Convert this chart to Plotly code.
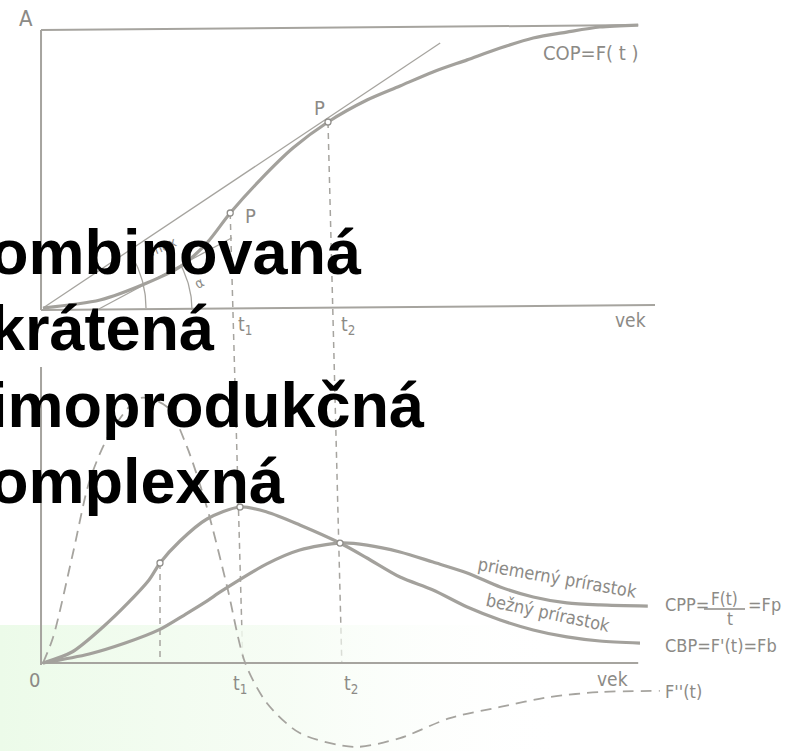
import math
import plotly.graph_objects as go

W, H = 800, 751

# ---------------- data (age on x, cumulative volume / increments on y) ----------------
# Top panel: cumulative production COP = F(t)
cop_age = [0, 9.5, 17.3, 22.8, 27.3, 31.2, 36.2, 41.7, 47.5, 54.0, 59.5, 65.0, 70.7, 76.2, 81.7, 87.3, 92.8, 99.2]
cop_val = [0, 2.85, 8.9, 14.6, 23.1, 33.8, 45.6, 57.0, 66.2, 74.0, 79.0, 84.0, 88.3, 92.5, 96.1, 98.2, 100.0, 100.7]

# top frame (A level, left axis, age axis)
top_border_age = [-0.33, 99.2]
top_border_val = [98.9, 100.7]
top_left_age = [-0.33, -0.33]
top_left_val = [98.9, -0.7]
top_base_age = [-0.33, 102.0]
top_base_val = [-0.7, 1.07]

# tangent from origin through P(t2) and line through inflection region
tan1_age = [0, 66.2]
tan1_val = [0, 94.3]
tan2_age = [9.0, 31.5]
tan2_val = [-0.7, 25.0]

# points P
p_age = [31.2, 47.5]
p_val = [33.8, 66.2]

# t1 / t2 dashed lines (continuous through both panels, in top-panel units)
t1_age = [31.2, 33.3]
t1_val = [33.8, -126.3]
t2_age = [47.5, 49.8]
t2_val = [66.2, -126.3]

# Bottom panel: current increment CBP, average increment CPP, F''(t)
cbp_age = [0, 4.83, 10.0, 14.17, 17.67, 19.5, 22.83, 27.33, 32.83, 37.3, 42.8, 49.5, 54.0, 59.5, 65.0, 70.7, 76.2, 81.7, 87.3, 92.8, 99.5]
cbp_val = [0, 7.05, 23.1, 38.5, 53.2, 64.1, 78.2, 92.3, 100.0, 96.8, 88.5, 76.9, 67.3, 55.1, 46.8, 35.9, 27.6, 21.2, 16.7, 14.1, 12.8]

cpp_age = [0, 7.7, 13.7, 19.3, 23.8, 27.3, 29.8, 37.3, 42.8, 49.5, 54.0, 59.5, 65.0, 70.7, 76.2, 81.7, 87.3, 92.8, 100.8]
cpp_val = [0, 5.77, 12.8, 21.2, 31.4, 39.7, 46.2, 63.5, 72.4, 76.9, 75.6, 71.2, 64.7, 57.7, 48.7, 42.3, 38.5, 37.2, 36.5]

f2_age = [0, 1.7, 5.0, 7.8, 11.2, 16.2, 20.7, 24.0, 27.3, 30.7, 33.7, 37.3, 42.8, 51.8, 59.5, 67.8, 76.2, 84.5, 92.8, 102.8]
f2_val = [0, 16.7, 70.5, 117.3, 147.4, 169.9, 164.1, 138.5, 100.0, 48.7, 0, -25.6, -44.9, -53.8, -48.1, -35.3, -28.2, -21.8, -18.6, -17.9]

bot_left_age = [-0.33, -0.33]
bot_left_val = [189.7, -1.3]
bot_base_age = [-0.33, 99.2]
bot_base_val = [0, 0]

infl_age = [19.5, 19.5]
infl_val = [64.1, 0]

bpts_age = [19.5, 32.83, 49.5]
bpts_val = [64.1, 100.0, 76.9]

# background tint (slide decoration)
tint_age = [-7.17, 88.0, 88.0, -7.17, -7.17]
tint_val = [-56.4, -56.4, 24.4, 24.4, -56.4]

bold_lines = ["ombinovaná", "krátená", "imoprodukčná", "omplexná"]

# ---------------- styling ----------------
CURVE = "#a3a19c"
THIN = "#a6a49f"
TXT = "#8c8a86"
LBL_FONT = "Liberation Sans Narrow, DejaVu Sans Condensed, Liberation Sans, sans-serif"

X_RANGE = [-43 / 6, (800 - 43) / 6]
Y1_RANGE = [(308 - 751) / 2.81, 308 / 2.81]
Y2_RANGE = [(663 - 751) / 1.56, 663 / 1.56]

fig = go.Figure()

# tint
fig.add_trace(go.Scatter(x=tint_age, y=tint_val, yaxis="y2", mode="none", fill="toself",
                         fillgradient=dict(type="horizontal",
                                           colorscale=[[0, "rgba(236,251,233,1)"], [0.5, "rgba(244,252,242,0.8)"],
                                                       [1, "rgba(255,255,255,0)"]]),
                         hoverinfo="skip"))

def line(x, y, ax="y", color=CURVE, width=3, dash="solid", smooth=True):
    fig.add_trace(go.Scatter(x=x, y=y, yaxis=ax, mode="lines",
                             line=dict(color=color, width=width, dash=dash,
                                       shape="spline" if smooth else "linear", smoothing=0.8),
                             hoverinfo="skip"))

# top frame
line(top_border_age, top_border_val, color=THIN, width=2)
line(top_left_age, top_left_val, color=THIN, width=2)
line(top_base_age, top_base_val, color=THIN, width=2)
# tangents
line(tan1_age, tan1_val, color=THIN, width=1.3)
line(tan2_age, tan2_val, color=THIN, width=1.3)

# angle arcs (radius in pixels, converted through scale)
def arc(cx, cy, r_px, a_end, ax="y"):
    n = 30
    xs, ys = [], []
    for i in range(n + 1):
        th = a_end * i / n
        xs.append(cx + r_px * math.cos(th) / 6.0)
        ys.append(cy + r_px * math.sin(th) / 2.81)
    fig.add_trace(go.Scatter(x=xs, y=ys, yaxis=ax, mode="lines",
                             line=dict(color=THIN, width=1.3), hoverinfo="skip"))

ang1 = math.atan2((tan1_val[1] - tan1_val[0]) * 2.81, (tan1_age[1] - tan1_age[0]) * 6)
ang2 = math.atan2((tan2_val[1] - tan2_val[0]) * 2.81, (tan2_age[1] - tan2_age[0]) * 6)
arc(tan1_age[0], tan1_val[0], 103, ang1)
arc(tan2_age[0], tan2_val[0], 95, ang2)

# COP curve
line(cop_age, cop_val, width=3.2)
# t1, t2 dashed
line(t1_age, t1_val, color=THIN, width=1.5, dash="6px,5px")
line(t2_age, t2_val, color=THIN, width=1.5, dash="6px,5px")

# bottom frame
line(bot_left_age, bot_left_val, ax="y2", color=THIN, width=2)
line(bot_base_age, bot_base_val, ax="y2", color=THIN, width=2)
line(infl_age, infl_val, ax="y2", color=THIN, width=1.5, dash="6px,5px")

# bottom curves
line(f2_age, f2_val, ax="y2", color=THIN, width=1.8, dash="11px,7px")
line(cpp_age, cpp_val, ax="y2", width=3.2)
line(cbp_age, cbp_val, ax="y2", width=3.2)

# small circles
fig.add_trace(go.Scatter(x=p_age, y=p_val, mode="markers",
                         marker=dict(size=6, color="white", line=dict(color="#8f8d89", width=1.3)),
                         hoverinfo="skip"))
fig.add_trace(go.Scatter(x=bpts_age, y=bpts_val, yaxis="y2", mode="markers",
                         marker=dict(size=6, color="white", line=dict(color="#8f8d89", width=1.3)),
                         hoverinfo="skip"))

# ---------------- text ----------------
anns = []

def ann(text, x, y, size=19, color=TXT, angle=0, xanchor="center", yanchor="middle",
        family=LBL_FONT, bold=False):
    anns.append(dict(text=text, x=x / W, y=1 - y / H, xref="paper", yref="paper",
                     showarrow=False, xanchor=xanchor, yanchor=yanchor, textangle=angle,
                     font=dict(size=size, color=color, family=family,
                               weight="bold" if bold else "normal")))

ann("A", 26, 19, size=22)
ann("COP=F( t )", 591, 53, size=20)
ann("P", 319, 108, size=20)
ann("P", 251, 216, size=20)
ann("α", 199, 283, size=14, angle=-30)
ann("max", 163, 246, size=14, angle=-22)
ann("t<sub>1</sub>", 245, 325, size=19)
ann("t<sub>2</sub>", 348, 325, size=19)
ann("vek", 630, 320, size=19)

ann("0", 34, 680, size=20)
ann("t<sub>1</sub>", 240, 684, size=19)
ann("t<sub>2</sub>", 351, 684, size=19)
ann("vek", 612, 679, size=19)
ann("priemerný prírastok", 557, 577, size=18, angle=10)
ann("bežný prírastok", 548, 612, size=18, angle=12)
ann("CPP=", 663, 604, size=18, xanchor="left")
ann("F(t)", 724, 599, size=17)
ann("t", 730, 619, size=17)
ann("=Fp", 746, 604, size=18, xanchor="left")
ann("CBP=F'(t)=Fb", 663, 645, size=18, xanchor="left")
ann("F''(t)", 663, 691, size=18, xanchor="left")

# bold overlay
for txt, yb in zip(bold_lines, [274, 350, 427, 503]):
    ann(txt, -12, yb - 22, size=63, color="#000000", xanchor="left",
        family="Liberation Sans, Arial, sans-serif", bold=True)

# fraction bar
fig.add_shape(type="line", xref="paper", yref="paper",
              x0=704 / W, x1=745 / W, y0=1 - 609 / H, y1=1 - 609 / H,
              line=dict(color=TXT, width=1.3))

fig.update_layout(
    width=W, height=H, margin=dict(l=0, r=0, t=0, b=0),
    paper_bgcolor="white", plot_bgcolor="white", showlegend=False,
    xaxis=dict(range=X_RANGE, visible=False, domain=[0, 1]),
    yaxis=dict(range=Y1_RANGE, visible=False, domain=[0, 1]),
    yaxis2=dict(range=Y2_RANGE, visible=False, overlaying="y"),
    annotations=anns,
)

fig.write_html("out.html", config={"displayModeBar": False},
               post_script="document.body.style.margin='0px';")
